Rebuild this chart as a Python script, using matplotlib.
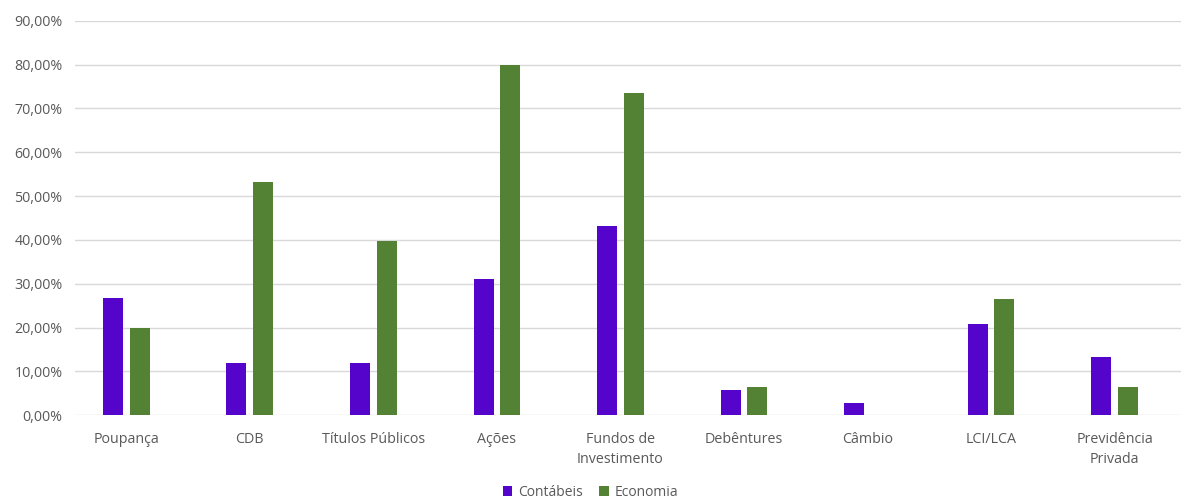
import numpy as np
import matplotlib.pyplot as plt
from matplotlib.ticker import FuncFormatter

categorias = ["Poupança", "CDB", "Títulos Públicos", "Ações", "Fundos de\nInvestimento",
              "Debêntures", "Câmbio", "LCI/LCA", "Previdência\nPrivada"]
contabeis = [26.8, 11.9, 11.9, 31.1, 43.1, 5.8, 2.9, 20.8, 13.2]
economia = [19.9, 53.1, 39.8, 80.0, 73.4, 6.5, 0.0, 26.5, 6.5]

plt.rcParams['font.family'] = ['Open Sans', 'DejaVu Sans']
cor_texto = '#595959'

fig = plt.figure(figsize=(11.81, 5.0), dpi=100)
ax = fig.add_axes([75 / 1181, 0.1694, 1 - 75 / 1181, 0.7892])

x = np.arange(len(categorias))
largura = 0.162
desloc = 0.108
ax.bar(x - desloc, contabeis, largura, color='#5505CB', label='Contábeis', zorder=3)
ax.bar(x + desloc, economia, largura, color='#548235', label='Economia', zorder=3)

ax.set_xlim(-0.415, 8.537)
ax.set_ylim(0, 90)
ax.set_yticks(np.arange(0, 91, 10))
ax.yaxis.set_major_formatter(FuncFormatter(lambda v, p: f"{v:.2f}%".replace('.', ',')))
ax.set_xticks(x)
ax.set_xticklabels(categorias, linespacing=1.45)
ax.grid(axis='y', color='#D9D9D9', linewidth=1, zorder=0)
for s in ax.spines.values():
    s.set_visible(False)
ax.tick_params(axis='both', length=0, colors=cor_texto, labelsize=10.3)
ax.tick_params(axis='y', pad=9)
ax.tick_params(axis='x', pad=12)

fig.legend(loc='center', bbox_to_anchor=(0.5, 0.016), ncol=2, frameon=False,
           fontsize=10, labelcolor=cor_texto, handlelength=0.7, handleheight=0.7,
           handletextpad=0.4, columnspacing=1.2)

fig.savefig('out.png', dpi=100)
